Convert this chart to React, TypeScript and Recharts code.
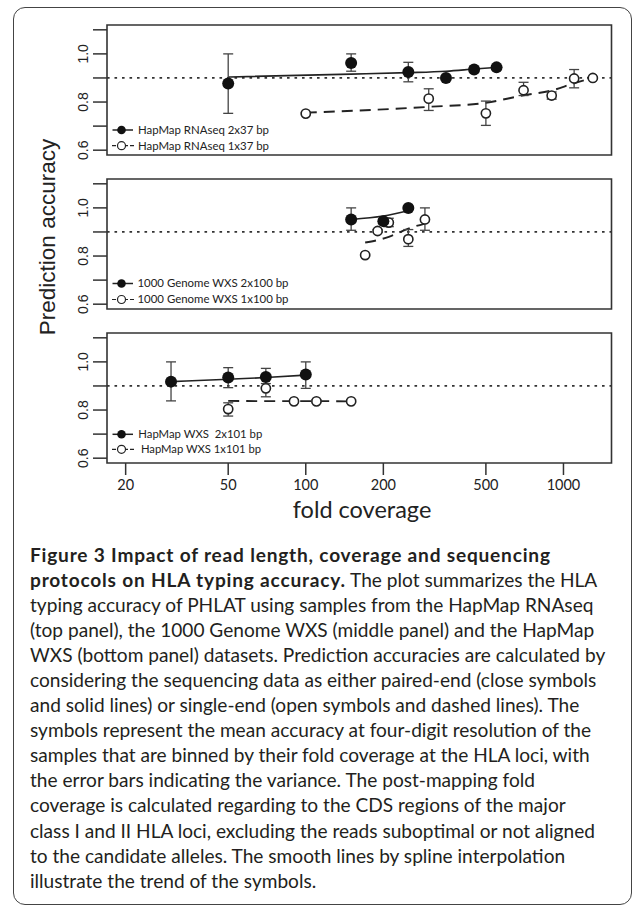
import React from 'react';
import {
  ComposedChart,
  Scatter,
  Line,
  XAxis,
  YAxis,
  ErrorBar,
  ReferenceLine,
  ReferenceArea,
} from 'recharts';

// ---------- axes ----------
const xTicks = [20, 50, 100, 200, 500, 1000];
const yTicks = [0.6, 0.7, 0.8, 0.9, 1.0, 1.1];
const xDomain: [number, number] = [16.93, 1536];
const yDomain: [number, number] = [0.58, 1.12];
const refAccuracy = 0.9;

// ---------- top panel: HapMap RNAseq ----------
const rnaPairedX = [50, 150, 250, 350, 450, 550];
const rnaPairedMean = [0.877, 0.962, 0.925, 0.9, 0.935, 0.944];
const rnaPairedLow = [0.753, 0.928, 0.884, 0.89, 0.925, 0.94];
const rnaPairedHigh = [1.0, 1.0, 0.965, 0.91, 0.946, 0.948];
const rnaPairedFit = [0.904, 0.916, 0.922, 0.928, 0.937, 0.944];

const rnaSingleX = [100, 300, 500, 700, 900, 1100, 1300];
const rnaSingleMean = [0.752, 0.814, 0.753, 0.849, 0.827, 0.898, 0.9];
const rnaSingleLow = [0.748, 0.765, 0.703, 0.827, 0.812, 0.859, 0.896];
const rnaSingleHigh = [0.756, 0.855, 0.804, 0.882, 0.842, 0.935, 0.904];
const rnaSingleFit = [0.756, 0.78, 0.797, 0.828, 0.848, 0.878, 0.9];

// ---------- middle panel: 1000 Genome WXS ----------
const kgPairedX = [150, 200, 250];
const kgPairedMean = [0.952, 0.945, 1.0];
const kgPairedLow = [0.907, 0.935, 0.996];
const kgPairedHigh = [1.0, 0.955, 1.004];
const kgPairedFit = [0.952, 0.966, 0.988];

const kgSingleX = [170, 190, 210, 250, 290];
const kgSingleMean = [0.804, 0.904, 0.939, 0.87, 0.952];
const kgSingleLow = [0.8, 0.898, 0.922, 0.84, 0.907];
const kgSingleHigh = [0.808, 0.91, 0.957, 0.91, 1.0];
const kgSingleFit = [0.856, 0.866, 0.88, 0.914, 0.935];

// ---------- bottom panel: HapMap WXS ----------
const hwPairedX = [30, 50, 70, 100];
const hwPairedMean = [0.918, 0.935, 0.937, 0.948];
const hwPairedLow = [0.838, 0.893, 0.895, 0.89];
const hwPairedHigh = [1.0, 0.976, 0.973, 1.0];
const hwPairedFit = [0.918, 0.928, 0.935, 0.945];

const hwSingleX = [50, 70, 90, 110, 150];
const hwSingleMean = [0.804, 0.89, 0.836, 0.836, 0.836];
const hwSingleLow = [0.775, 0.855, 0.83, 0.83, 0.83];
const hwSingleHigh = [0.83, 0.91, 0.842, 0.842, 0.842];
const hwSingleFit = [0.838, 0.837, 0.837, 0.837, 0.836];

// ---------- text ----------
const rnaLegend = ['HapMap RNAseq 2x37 bp', 'HapMap RNAseq 1x37 bp'];
const kgLegend = ['1000 Genome WXS 2x100 bp', '1000 Genome WXS 1x100 bp'];
const hwLegend = ['HapMap WXS  2x101 bp', ' HapMap WXS 1x101 bp'];
const yAxisTitle = 'Prediction accuracy';
const xAxisTitle = 'fold coverage';

const captionBold1 = 'Figure 3 Impact of read length, coverage and sequencing';
const captionBold2 = 'protocols on HLA typing accuracy.';
const captionRest2 = ' The plot summarizes the HLA';
const captionLines = [
  'typing accuracy of PHLAT using samples from the HapMap RNAseq',
  '(top panel), the 1000 Genome WXS (middle panel) and the HapMap',
  'WXS (bottom panel) datasets. Prediction accuracies are calculated by',
  'considering the sequencing data as either paired-end (close symbols',
  'and solid lines) or single-end (open symbols and dashed lines). The',
  'symbols represent the mean accuracy at four-digit resolution of the',
  'samples that are binned by their fold coverage at the HLA loci, with',
  'the error bars indicating the variance. The post-mapping fold',
  'coverage is calculated regarding to the CDS regions of the major',
  'class I and II HLA loci, excluding the reads suboptimal or not aligned',
  'to the candidate alleles. The smooth lines by spline interpolation',
  'illustrate the trend of the symbols.',
];

const toPoints = (xs: number[], m: number[], lo: number[], hi: number[]) =>
  xs.map((x, i) => ({ x, y: m[i], err: [m[i] - lo[i], hi[i] - m[i]] }));
const toFit = (xs: number[], f: number[]) => xs.map((x, i) => ({ x, y: f[i] }));

const INK = '#222';
const SANS = "'Liberation Sans', Arial, sans-serif";
const HUM = "Lato, 'Open Sans', sans-serif";

const renderYTick = (props: any) => {
  const { x, y, payload } = props;
  const v = payload.value as number;
  const show = Math.round(v * 10) % 2 === 0;
  if (!show) return <g />;
  return (
    <text
      x={x}
      y={y}
      transform={`rotate(-90 ${x} ${y})`}
      textAnchor="middle"
      fontSize={14}
      fontFamily={SANS}
      fill={INK}
    >
      {v.toFixed(1)}
    </text>
  );
};

const filledShape = (p: any) => <circle cx={p.cx} cy={p.cy} r={6} fill="#111" />;
const openShape = (p: any) => (
  <circle cx={p.cx} cy={p.cy} r={4.6} fill="#fff" stroke={INK} strokeWidth={1.6} />
);

type PanelProps = {
  top: number;
  paired: any[];
  single: any[];
  pairedFit: any[];
  singleFit: any[];
  showLabels: boolean;
};

function Panel({ top, paired, single, pairedFit, singleFit, showLabels }: PanelProps) {
  const xAxisH = showLabels ? 34 : 14;
  const h = 25 + 130 + xAxisH + 1;
  return (
    <div style={{ position: 'absolute', left: 0, top }}>
      <ComposedChart
        width={633}
        height={h}
        margin={{ top: 25, right: 21.5, bottom: 1, left: 47 }}
      >
        <XAxis
          type="number"
          dataKey="x"
          scale="log"
          domain={xDomain}
          allowDataOverflow
          ticks={xTicks}
          interval={0}
          tickSize={12}
          tickMargin={5}
          axisLine={false}
          tickLine={{ stroke: '#333', strokeWidth: 1.5 }}
          tick={showLabels ? { fontSize: 14.5, fontFamily: HUM, fill: INK } : false}
          height={xAxisH}
        />
        <YAxis
          type="number"
          dataKey="y"
          domain={yDomain}
          allowDataOverflow
          ticks={yTicks}
          interval={0}
          tickSize={14}
          tickMargin={5}
          axisLine={false}
          tickLine={{ stroke: '#333', strokeWidth: 1.5 }}
          tick={renderYTick}
          width={60}
        />
        <ReferenceArea
          x1={xDomain[0]}
          x2={xDomain[1]}
          y1={yDomain[0]}
          y2={yDomain[1]}
          fill="none"
          fillOpacity={0}
          stroke="#333"
          strokeWidth={1.6}
        />
        <ReferenceLine
          y={refAccuracy}
          stroke="#333"
          strokeWidth={1.8}
          strokeDasharray="2.6 4.9"
        />
        <Line
          data={pairedFit}
          dataKey="y"
          type="monotone"
          stroke={INK}
          strokeWidth={1.6}
          dot={false}
          activeDot={false}
          isAnimationActive={false}
        />
        <Line
          data={singleFit}
          dataKey="y"
          type="monotone"
          stroke={INK}
          strokeWidth={1.9}
          strokeDasharray="11 7"
          dot={false}
          activeDot={false}
          isAnimationActive={false}
        />
        <Scatter data={single} shape={openShape} isAnimationActive={false}>
          <ErrorBar dataKey="err" direction="y" width={5} stroke="#444" strokeWidth={1.3} />
        </Scatter>
        <Scatter data={paired} shape={filledShape} isAnimationActive={false}>
          <ErrorBar dataKey="err" direction="y" width={5} stroke="#444" strokeWidth={1.3} />
        </Scatter>
      </ComposedChart>
    </div>
  );
}

function LegendRows({ y1, y2, labels, widths, x2 }: { y1: number; y2: number; labels: string[]; widths: number[]; x2: number[] }) {
  return (
    <g>
      <line x1={112.5} y1={y1} x2={133} y2={y1} stroke={INK} strokeWidth={1.5} />
      <circle cx={121.5} cy={y1} r={4.3} fill="#111" />
      <text
        x={x2[0]}
        y={y1 + 3.8}
        fontSize={11}
        fontFamily={HUM}
        fill={INK}
        textLength={widths[0]}
        lengthAdjust="spacingAndGlyphs"
        style={{ whiteSpace: 'pre' }}
      >
        {labels[0]}
      </text>
      <line x1={112} y1={y2} x2={135} y2={y2} stroke={INK} strokeWidth={1.2} strokeDasharray="4 2" />
      <circle cx={121.5} cy={y2} r={4} fill="#fff" stroke={INK} strokeWidth={1.2} />
      <text
        x={x2[1]}
        y={y2 + 3.8}
        fontSize={11}
        fontFamily={HUM}
        fill={INK}
        textLength={widths[1]}
        lengthAdjust="spacingAndGlyphs"
        style={{ whiteSpace: 'pre' }}
      >
        {labels[1]}
      </text>
    </g>
  );
}

export default function App() {
  return (
    <div style={{ position: 'absolute', left: 0, top: 0, width: 633, height: 914, background: '#fff', overflow: 'hidden' }}>
      <div
        style={{
          position: 'absolute',
          left: 13,
          top: 7,
          width: 619,
          height: 898,
          boxSizing: 'border-box',
          border: '1.5px solid #444',
          borderRadius: 12,
        }}
      />
      <Panel
        top={0}
        paired={toPoints(rnaPairedX, rnaPairedMean, rnaPairedLow, rnaPairedHigh)}
        single={toPoints(rnaSingleX, rnaSingleMean, rnaSingleLow, rnaSingleHigh)}
        pairedFit={toFit(rnaPairedX, rnaPairedFit)}
        singleFit={toFit(rnaSingleX, rnaSingleFit)}
        showLabels={false}
      />
      <Panel
        top={154.3}
        paired={toPoints(kgPairedX, kgPairedMean, kgPairedLow, kgPairedHigh)}
        single={toPoints(kgSingleX, kgSingleMean, kgSingleLow, kgSingleHigh)}
        pairedFit={toFit(kgPairedX, kgPairedFit)}
        singleFit={toFit(kgSingleX, kgSingleFit)}
        showLabels={false}
      />
      <Panel
        top={308.3}
        paired={toPoints(hwPairedX, hwPairedMean, hwPairedLow, hwPairedHigh)}
        single={toPoints(hwSingleX, hwSingleMean, hwSingleLow, hwSingleHigh)}
        pairedFit={toFit(hwPairedX, hwPairedFit)}
        singleFit={toFit(hwSingleX, hwSingleFit)}
        showLabels={true}
      />
      <svg
        width={633}
        height={560}
        style={{ position: 'absolute', left: 0, top: 0, pointerEvents: 'none' }}
      >
        <text
          x={55}
          y={237}
          transform="rotate(-90 55 237)"
          textAnchor="middle"
          fontSize={22.5}
          fontFamily={SANS}
          fill={INK}
        >
          {yAxisTitle}
        </text>
        <text x={362} y={518} textAnchor="middle" fontSize={23.5} fontFamily={HUM} fill={INK}>
          {xAxisTitle}
        </text>
        <LegendRows y1={130} y2={145.7} labels={rnaLegend} widths={[131, 131]} x2={[138, 138]} />
        <LegendRows y1={283.5} y2={299.5} labels={kgLegend} widths={[151, 151]} x2={[137.5, 137.5]} />
        <LegendRows y1={434.3} y2={449.3} labels={hwLegend} widths={[124, 123]} x2={[138.3, 138]} />
      </svg>
      <div
        style={{
          position: 'absolute',
          left: 30,
          top: 541.5,
          fontFamily: HUM,
          fontSize: 19.1,
          lineHeight: '25.1px',
          color: '#231f20',
          whiteSpace: 'nowrap',
        }}
      >
        <div style={{ fontWeight: 700, letterSpacing: '0.8px' }}>{captionBold1}</div>
        <div>
          <span style={{ fontWeight: 700, letterSpacing: '0.8px' }}>{captionBold2}</span>
          {captionRest2}
        </div>
        {captionLines.map((l, i) => (
          <div key={i}>{l}</div>
        ))}
      </div>
    </div>
  );
}
